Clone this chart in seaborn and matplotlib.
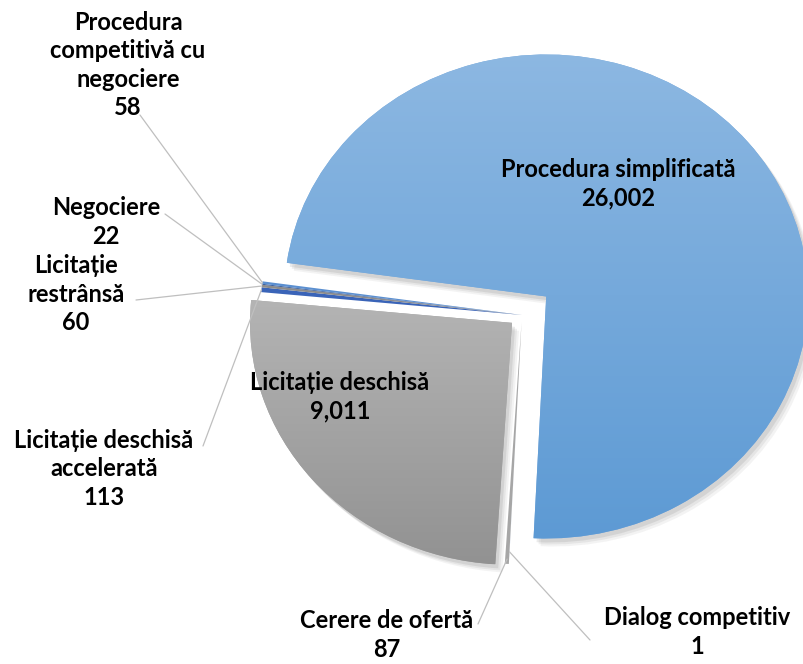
import numpy as np
import matplotlib
matplotlib.use("Agg")
import matplotlib.pyplot as plt
import seaborn as sns
from matplotlib.patches import Wedge
from matplotlib.colors import to_rgb

categories = ["Procedura simplificată", "Dialog competitiv", "Cerere de ofertă",
              "Licitație deschisă", "Licitație deschisă accelerată",
              "Licitație restrânsă", "Negociere", "Procedura competitivă cu negociere"]
values = [26002, 1, 87, 9011, 113, 60, 22, 58]
label_text = ["Procedura simplificată", "Dialog competitiv", "Cerere de ofertă",
              "Licitație deschisă", "Licitație deschisă\naccelerată",
              "Licitație\nrestrânsă", "Negociere", "Procedura\ncompetitivă cu\nnegociere"]

sns.set_theme(style="white")
plt.rcParams["font.family"] = ["Lato", "Open Sans", "DejaVu Sans"]

W, H = 804, 664
cx, cy = 522, 315     # pie centre in pixels
sx, sy = 262, 242     # pixels per radius unit


def px(x, y):
    return (x - cx) / sx, (cy - y) / sy


colors = ["#78A9DC", "#4472C4", "#A6A6A6", "#A3A3A3",
          "#3A64B8", "#8C8C8C", "#2F5597", "#5B8FD0"]
explode = [0.12, 0.0, 0.03, 0.05, 0.0, 0.0, 0.0, 0.0]

fig = plt.figure(figsize=(W / 100, H / 100), dpi=100)
ax = fig.add_axes([0, 0, 1, 1])

wedges, _ = ax.pie(values, startangle=172, counterclock=False, explode=explode,
                   colors=colors, radius=1, wedgeprops=dict(linewidth=0))

# soft shadows + gradient fills for the two big slices
gradients = {0: ("#8DB8E2", "#5D9AD4"), 3: ("#B4B4B4", "#929292")}
for i, (top, bot) in gradients.items():
    w = wedges[i]
    for k, a in enumerate([0.10, 0.08, 0.06]):
        sh = Wedge((w.center[0] + (3 + k * 2) / sx, w.center[1] - (4 + k * 2) / sy),
                   w.r, w.theta1, w.theta2, color="#404040", alpha=a,
                   linewidth=0, zorder=0.5)
        ax.add_patch(sh)
    verts = w.get_patch_transform().transform(w.get_path().vertices)
    x0, x1 = verts[:, 0].min(), verts[:, 0].max()
    y0, y1 = verts[:, 1].min(), verts[:, 1].max()
    t = np.linspace(0, 1, 256)[:, None, None]
    img = (1 - t) * np.array(to_rgb(top)) + t * np.array(to_rgb(bot))
    img = np.repeat(img, 2, axis=1)
    im = ax.imshow(img, extent=(x0, x1, y0, y1), origin="upper", aspect="auto",
                   zorder=2, interpolation="bilinear")
    im.set_clip_path(w)

ax.set_xlim(-cx / sx, (W - cx) / sx)
ax.set_ylim(-(H - cy) / sy, cy / sy)
ax.set_aspect("auto")
ax.axis("off")

for i, w in enumerate(wedges):
    if i not in gradients:
        w.set_zorder(3)

txt = dict(ha="center", va="center", fontsize=17, fontweight="bold",
           color="black", linespacing=1.27, zorder=5)


def lab(i):
    return f"{label_text[i]}\n{values[i]:,}"


# labels inside big slices
ax.text(*px(618, 184), lab(0), **txt)
ax.text(*px(340, 397), lab(3), **txt)

# outside labels with leader lines: (index, label centre, line start)
outside = [
    (7, (128, 65), (140, 115)),
    (6, (106, 222), (165, 214)),
    (5, (76, 294), (136, 300)),
    (4, (104, 469), (203, 446)),
    (2, (387, 635), (478, 624)),
    (1, (697, 632), (590, 640)),
]
for i, (lx, ly), (sx0, sy0) in outside:
    ax.text(*px(lx, ly), lab(i), **txt)
    w = wedges[i]
    mid = np.deg2rad((w.theta1 + w.theta2) / 2)
    r = 1.0 if i >= 4 else 0.98
    ex = w.center[0] + r * np.cos(mid)
    ey = w.center[1] + r * np.sin(mid)
    x0, y0 = px(sx0, sy0)
    ax.plot([x0, ex], [y0, ey], color="#BFBFBF", linewidth=0.9, zorder=4)

fig.savefig("out.png", dpi=100)
